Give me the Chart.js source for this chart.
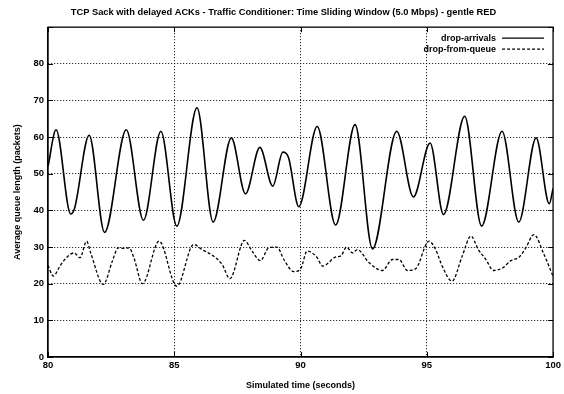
<!DOCTYPE html>
<html>
<head>
<meta charset="utf-8">
<script src="https://cdn.jsdelivr.net/npm/chart.js@4/dist/chart.umd.min.js"></script>
<style>
  html, body { margin: 0; padding: 0; background: #fff; }
  #wrap { width: 564px; height: 394px; }
</style>
</head>
<body>
<div id="wrap"><canvas id="c" width="564" height="394"></canvas></div>
<script>
// Simulated time (s) and average queue length (packets), drop-arrivals
const arrivalsTime = [80.0, 80.32, 80.9, 81.05, 81.63, 82.24, 83.1, 83.78, 84.47, 85.1,
  85.9, 86.54, 87.26, 87.82, 88.39, 88.9, 89.3, 89.52, 89.93, 90.66, 91.39, 92.16,
  92.85, 93.81, 94.47, 95.13, 95.66, 96.5, 97.17, 97.98, 98.64, 99.33, 99.85, 100.0];
const arrivalsQueue = [52, 62, 39, 40.5, 60.5, 34, 62, 37.3, 61.6, 35.7,
  68, 36.8, 59.8, 44.5, 57.2, 46.6, 55.9, 54.5, 41, 62.9, 36, 63.4,
  29.5, 61.6, 43.7, 58.4, 38.9, 65.7, 35.7, 61.6, 36.8, 59.8, 41.8, 46];

// drop-from-queue
const queueTime = [80.0, 80.21, 80.5, 80.79, 81.03, 81.27, 81.53, 81.69, 82.19, 82.55,
  82.78, 83.02, 83.21, 83.4, 83.74, 84.4, 85.1, 85.77, 86.1, 86.56, 86.89, 87.2,
  87.78, 88.08, 88.41, 88.74, 89.07, 89.34, 89.73, 90.02, 90.26, 90.64, 90.88, 91.4,
  91.6, 91.82, 92.06, 92.25, 92.72, 93.24, 93.64, 93.9, 94.23, 94.56, 95.09, 95.35,
  95.61, 96.0, 96.4, 96.75, 97.04, 97.34, 97.64, 98.0, 98.33, 98.66, 98.92, 99.24,
  99.64, 100.0];
const queueLen = [25, 22.1, 25.1, 27.5, 28.4, 27.1, 31.6, 28.4, 19.8, 26.2,
  29.8, 29.6, 29.8, 27.1, 20, 31.6, 19.3, 30.7, 29.3, 27.5, 25.3, 21.4,
  31.8, 28.9, 26.3, 29.8, 30, 26.6, 23.3, 24.3, 28.9, 27.3, 24.8, 27.3,
  27.6, 30, 28.4, 29.3, 25.7, 23.6, 26.6, 26.6, 23.6, 24.1, 31.6, 29.3,
  24.8, 20.7, 27.5, 33, 29.3, 26.6, 23.6, 24.3, 26.3, 27.3, 29.8, 33.4,
  28, 22];

const xTicks = [80, 85, 90, 95, 100];
const yTicks = [0, 10, 20, 30, 40, 50, 60, 70, 80];

const seriesNames = ['drop-arrivals', 'drop-from-queue'];
const chartTitle = 'TCP Sack with delayed ACKs - Traffic Conditioner: Time Sliding Window (5.0 Mbps) - gentle RED';
const xTitle = 'Simulated time (seconds)';
const yTitle = 'Average queue length (packets)';

const toPoints = (xs, ys) => xs.map((x, i) => ({ x: x, y: ys[i] }));

const FONT = '"Liberation Sans", Arial, sans-serif';
const TICK_FONT = { family: FONT, size: 9.5, weight: 'bold' };

// Legend drawn inside the top-right corner of the plot, gnuplot style
const insideLegend = {
  id: 'insideLegend',
  afterDatasetsDraw(chart) {
    const ctx = chart.ctx;
    const area = chart.chartArea;
    ctx.save();
    ctx.font = 'bold 9px ' + FONT;
    ctx.fillStyle = '#000';
    ctx.textAlign = 'right';
    ctx.textBaseline = 'middle';
    chart.data.datasets.forEach((ds, i) => {
      const y = area.top + 11 + i * 11;
      ctx.fillText(ds.label, area.right - 57, y);
      ctx.beginPath();
      ctx.strokeStyle = '#000';
      ctx.lineWidth = 1.2;
      ctx.setLineDash(ds.borderDash || []);
      ctx.moveTo(area.right - 51, y);
      ctx.lineTo(area.right - 9, y);
      ctx.stroke();
    });
    ctx.restore();
  }
};

// Short inward tick marks on all four sides and a closed frame
const frameAndTicks = {
  id: 'frameAndTicks',
  afterDraw(chart) {
    const { ctx, chartArea: a, scales: { x, y } } = chart;
    ctx.save();
    ctx.strokeStyle = '#000';
    ctx.lineWidth = 1;
    ctx.setLineDash([]);
    ctx.beginPath();
    xTicks.forEach(v => {
      const px = Math.round(x.getPixelForValue(v)) + 0.5;
      ctx.moveTo(px, a.bottom); ctx.lineTo(px, a.bottom - 5);
      ctx.moveTo(px, a.top); ctx.lineTo(px, a.top + 5);
    });
    yTicks.concat([90]).forEach(v => {
      const py = Math.round(y.getPixelForValue(v)) + 0.5;
      ctx.moveTo(a.left, py); ctx.lineTo(a.left + 5, py);
      ctx.moveTo(a.right, py); ctx.lineTo(a.right - 5, py);
    });
    ctx.stroke();
    ctx.lineWidth = 1.3;
    ctx.strokeRect(a.left, a.top, a.right - a.left, a.bottom - a.top);
    ctx.restore();
  }
};

new Chart(document.getElementById('c'), {
  type: 'line',
  data: {
    datasets: [
      {
        label: seriesNames[0],
        data: toPoints(arrivalsTime, arrivalsQueue),
        borderColor: '#000',
        borderWidth: 1.6,
        pointRadius: 0,
        cubicInterpolationMode: 'monotone',
        fill: false
      },
      {
        label: seriesNames[1],
        data: toPoints(queueTime, queueLen),
        borderColor: '#000',
        borderWidth: 1.3,
        borderDash: [3, 2],
        pointRadius: 0,
        cubicInterpolationMode: 'monotone',
        fill: false
      }
    ]
  },
  options: {
    responsive: false,
    animation: false,
    layout: { padding: { left: 12, right: 9, top: 0, bottom: 0 } },
    plugins: {
      legend: { display: false },
      tooltip: { enabled: false },
      title: {
        display: true,
        text: chartTitle,
        color: '#000',
        font: { family: FONT, size: 9.3, weight: 'bold', lineHeight: 1.2 },
        padding: { top: 7, bottom: 9 }
      }
    },
    scales: {
      x: {
        type: 'linear',
        min: 80, max: 100,
        afterBuildTicks: (s) => { s.ticks = xTicks.map(v => ({ value: v })); },
        afterFit: (s) => { s.height = 37; },
        ticks: {
          color: '#000',
          font: TICK_FONT,
          padding: 3,
          maxRotation: 0
        },
        grid: {
          color: (c) => (c.tick && (c.tick.value === 80 || c.tick.value === 100)) ? 'rgba(0,0,0,0)' : '#000',
          lineWidth: 1,
          drawTicks: false,
          tickLength: 0
        },
        border: { display: true, color: '#000', width: 1.2, dash: [1, 2] },
        title: {
          display: true,
          text: xTitle,
          color: '#000',
          font: { family: FONT, size: 9, weight: 'bold' },
          padding: { top: 0, bottom: 3 }
        }
      },
      y: {
        type: 'linear',
        min: 0, max: 90,
        afterBuildTicks: (s) => { s.ticks = yTicks.concat([90]).map(v => ({ value: v })); },
        afterFit: (s) => { s.width = 36; },
        ticks: {
          color: '#000',
          font: TICK_FONT,
          padding: 4,
          callback: (v) => (v === 90 ? '' : String(v))
        },
        grid: {
          color: (c) => (c.tick && (c.tick.value === 0 || c.tick.value === 90)) ? 'rgba(0,0,0,0)' : '#000',
          lineWidth: 1,
          drawTicks: false,
          tickLength: 0
        },
        border: { display: true, color: '#000', width: 1.2, dash: [1, 2] },
        title: {
          display: true,
          text: yTitle,
          color: '#000',
          font: { family: FONT, size: 9, weight: 'bold' },
          padding: { top: 0, bottom: 0 }
        }
      }
    }
  },
  plugins: [insideLegend, frameAndTicks]
});
</script>
</body>
</html>
